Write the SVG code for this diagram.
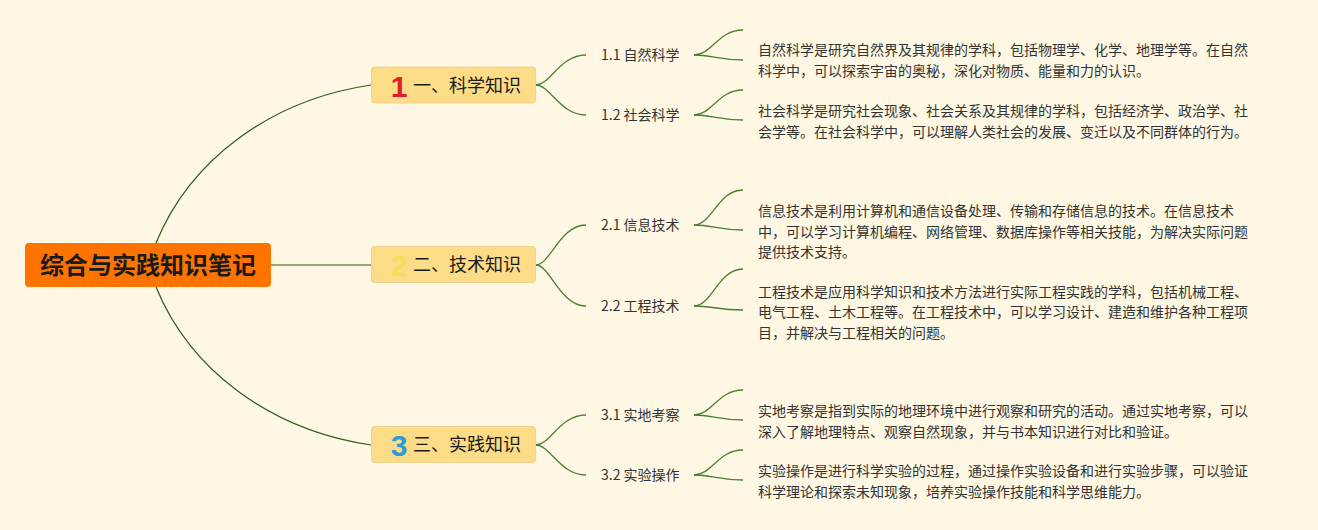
<svg xmlns="http://www.w3.org/2000/svg" width="1318" height="530" viewBox="0 0 1318 530">
<style>
text{font-family:"Noto Sans CJK SC","Noto Sans",sans-serif;}
.root{fill:#FF7300;}
.rootT{font-size:24px;font-weight:bold;fill:#1a1a1a;text-anchor:middle;}
.l1{fill:#FDDC88;stroke:#EFD38E;stroke-width:1;}
.l1T{font-size:18px;fill:#1a1a1a;}
.num{font-family:"Liberation Sans",Arial,sans-serif;font-size:30px;font-weight:bold;text-anchor:middle;}
.l2T{font-size:14px;fill:#333;}
.leaf{font-size:14px;fill:#333;}
.c0{fill:none;stroke:#2F5A1E;stroke-width:1.2;}
.c1{fill:none;stroke:#4E7D35;stroke-width:1.3;}
</style>
<rect width="1318" height="530" fill="#FDF7E3"/>
<g id="connectors">
<path class="c0" d="M156,243 C190,160 270,100 371,85"/>
<path class="c0" d="M271,265 L371,265"/>
<path class="c0" d="M156,287 C190,370 270,430 371,445"/>
<path class="c1" d="M536,85 C550,85 560,55 586,55"/>
<path class="c1" d="M536,85 C550,85 560,115 586,115"/>
<path class="c1" d="M536,265 C550,265 560,225 586,225"/>
<path class="c1" d="M536,265 C550,265 560,306 586,306"/>
<path class="c1" d="M536,445 C550,445 560,415 586,415"/>
<path class="c1" d="M536,445 C550,445 560,475 586,475"/>
<path class="c1" d="M694,55 C712,55 718,30 743,30"/>
<path class="c1" d="M694,55 C712,55 718,60 743,60"/>
<path class="c1" d="M694,115 C712,115 718,90 743,90"/>
<path class="c1" d="M694,115 C712,115 718,120 743,120"/>
<path class="c1" d="M694,225 C712,225 718,190 743,190"/>
<path class="c1" d="M694,225 C712,225 718,230 743,230"/>
<path class="c1" d="M694,306 C712,306 718,269 743,269"/>
<path class="c1" d="M694,306 C712,306 718,310 743,310"/>
<path class="c1" d="M694,415 C712,415 718,390 743,390"/>
<path class="c1" d="M694,415 C712,415 718,420 743,420"/>
<path class="c1" d="M694,475 C712,475 718,450 743,450"/>
<path class="c1" d="M694,475 C712,475 718,480 743,480"/>
</g>
<g id="root">
<rect class="root" x="25" y="243" width="246" height="44" rx="4"/>
<text class="rootT" x="148" y="273.5">综合与实践知识笔记</text>
</g>
<g id="n1">
<rect class="l1" x="371.5" y="67" width="164" height="36" rx="3"/>
<text class="num" x="399" y="96.5" fill="#DE1F26">1</text>
<text class="l1T" x="413" y="91.5">一、科学知识</text>
</g>
<g id="n2">
<rect class="l1" x="371.5" y="246.5" width="164" height="36" rx="3"/>
<text class="num" x="399" y="276" fill="#F3DE55">2</text>
<text class="l1T" x="413" y="271">二、技术知识</text>
</g>
<g id="n3">
<rect class="l1" x="371.5" y="426.5" width="164" height="36" rx="3"/>
<text class="num" x="399" y="456" fill="#2D9ADA">3</text>
<text class="l1T" x="413" y="451">三、实践知识</text>
</g>
<g id="n1-1"><text class="l2T" x="601" y="60">1.1 自然科学</text></g>
<g id="n1-2"><text class="l2T" x="601" y="120">1.2 社会科学</text></g>
<g id="n2-1"><text class="l2T" x="601" y="230">2.1 信息技术</text></g>
<g id="n2-2"><text class="l2T" x="601" y="311">2.2 工程技术</text></g>
<g id="n3-1"><text class="l2T" x="601" y="420">3.1 实地考察</text></g>
<g id="n3-2"><text class="l2T" x="601" y="480">3.2 实验操作</text></g>
<g id="leaf1-1"><text class="leaf" x="758"><tspan x="758" y="55">自然科学是研究自然界及其规律的学科，包括物理学、化学、地理学等。在自然</tspan><tspan x="758" y="76">科学中，可以探索宇宙的奥秘，深化对物质、能量和力的认识。</tspan></text></g>
<g id="leaf1-2"><text class="leaf" x="758"><tspan x="758" y="116">社会科学是研究社会现象、社会关系及其规律的学科，包括经济学、政治学、社</tspan><tspan x="758" y="136.5">会学等。在社会科学中，可以理解人类社会的发展、变迁以及不同群体的行为。</tspan></text></g>
<g id="leaf2-1"><text class="leaf" x="758"><tspan x="758" y="216">信息技术是利用计算机和通信设备处理、传输和存储信息的技术。在信息技术</tspan><tspan x="758" y="236.5">中，可以学习计算机编程、网络管理、数据库操作等相关技能，为解决实际问题</tspan><tspan x="758" y="257">提供技术支持。</tspan></text></g>
<g id="leaf2-2"><text class="leaf" x="758"><tspan x="758" y="296.5">工程技术是应用科学知识和技术方法进行实际工程实践的学科，包括机械工程、</tspan><tspan x="758" y="317">电气工程、土木工程等。在工程技术中，可以学习设计、建造和维护各种工程项</tspan><tspan x="758" y="337.5">目，并解决与工程相关的问题。</tspan></text></g>
<g id="leaf3-1"><text class="leaf" x="758"><tspan x="758" y="416">实地考察是指到实际的地理环境中进行观察和研究的活动。通过实地考察，可以</tspan><tspan x="758" y="437">深入了解地理特点、观察自然现象，并与书本知识进行对比和验证。</tspan></text></g>
<g id="leaf3-2"><text class="leaf" x="758"><tspan x="758" y="476">实验操作是进行科学实验的过程，通过操作实验设备和进行实验步骤，可以验证</tspan><tspan x="758" y="496.5">科学理论和探索未知现象，培养实验操作技能和科学思维能力。</tspan></text></g>
</svg>
